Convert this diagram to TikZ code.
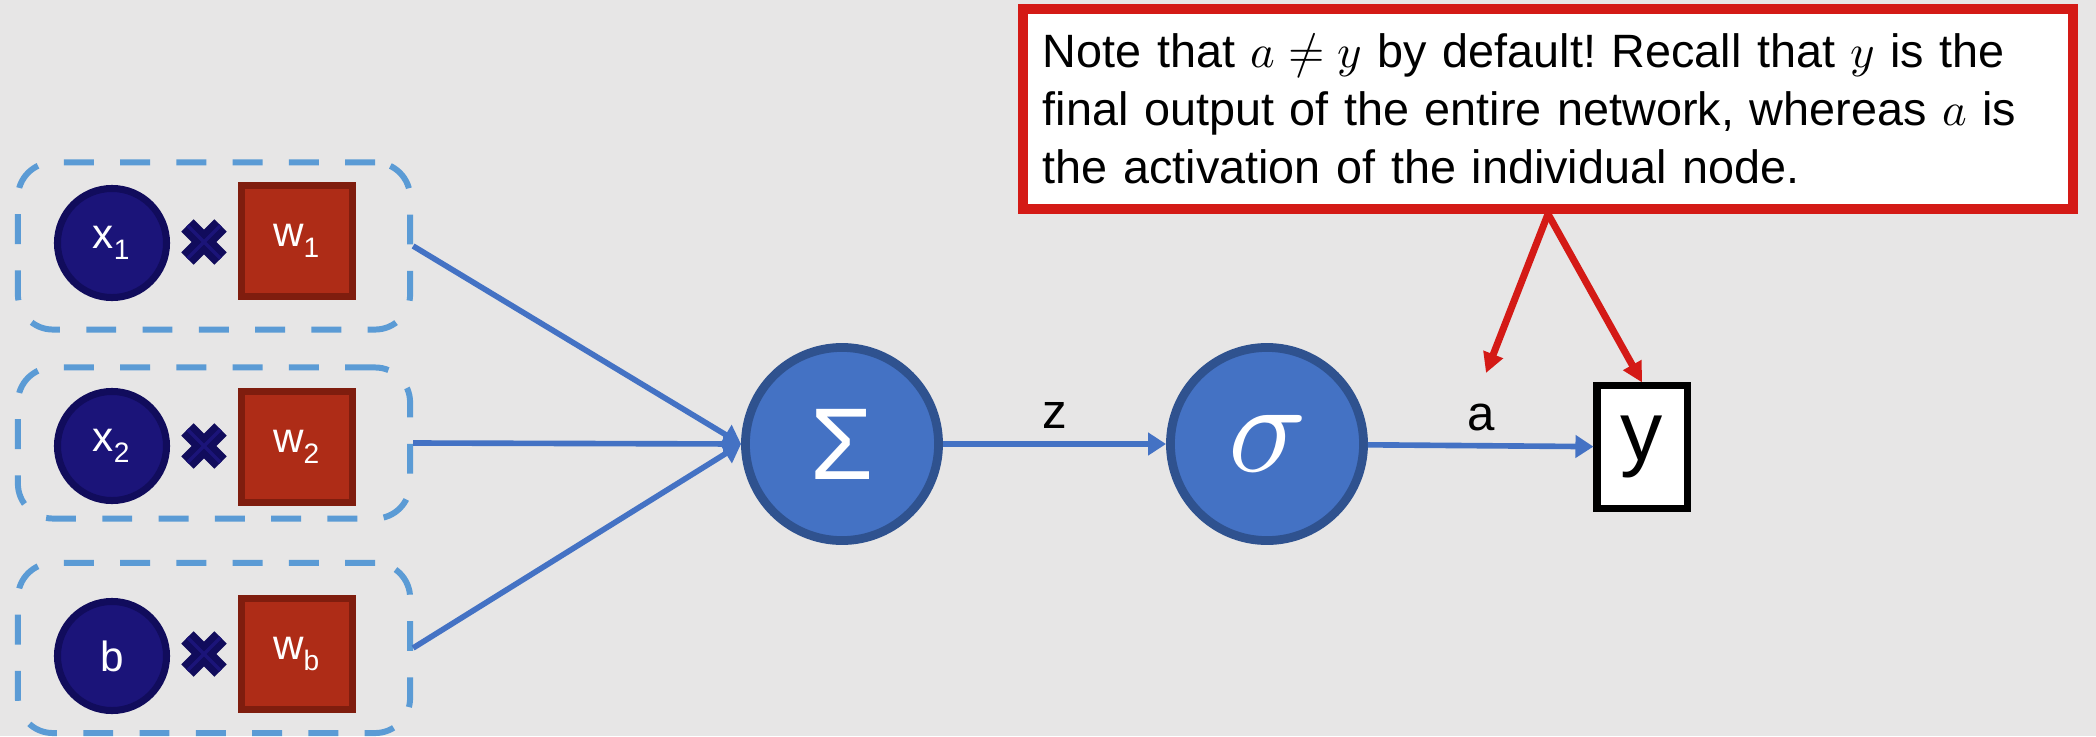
\documentclass[tikz,border=0pt]{standalone}
\usepackage{fontspec}
\usepackage{unicode-math}
\setmainfont{Liberation Sans}
\setmathfont{Latin Modern Math}
\usepackage{xcolor}
\usepackage{tikz}
\usetikzlibrary{arrows.meta, shapes.misc, positioning}

\definecolor{bgpaper}{HTML}{E7E6E6}
\definecolor{groupblue}{HTML}{5B9BD5}
\definecolor{navyfill}{HTML}{1B1479}
\definecolor{navyline}{HTML}{110C5C}
\definecolor{rustfill}{HTML}{AE2C17}
\definecolor{rustline}{HTML}{7F1D0E}
\definecolor{unitblue}{HTML}{4472C4}
\definecolor{unitline}{HTML}{2F528F}
\definecolor{notered}{HTML}{D41A16}

\tikzset{
    inputnode/.style={circle, fill=navyfill, draw=navyline, line width=2pt,
        minimum size=1.09cm, inner sep=0pt, text=white,
        font=\fontsize{12}{12}\selectfont},
    weightnode/.style={rectangle, fill=rustfill, draw=rustline, line width=2pt,
        minimum size=1.1cm, inner sep=0pt, text=white,
        font=\fontsize{12}{12}\selectfont},
    timesmark/.style={cross out, draw=navyline, double=navyfill,
        double distance=1pt, line width=2pt,
        minimum size=0.26cm, inner sep=0pt},
    groupbox/.style={rectangle, draw=groupblue, line width=1.7pt,
        dash pattern=on 8.5pt off 7.5pt, rounded corners=0.35cm,
        minimum width=3.92cm},
    unitnode/.style={circle, fill=unitblue, draw=unitline, line width=2.5pt,
        minimum size=1.93cm, inner sep=0pt, text=white},
    flow/.style={draw=unitblue, line width=1.6pt,
        -{Triangle[length=0.18cm, width=0.22cm]}},
    flowlabel/.style={above=1.5pt, inner sep=2pt,
        font=\fontsize{14}{14}\selectfont},
    pointer/.style={draw=notered, line width=2pt,
        -{Triangle[length=0.2cm, width=0.2cm]}},
}

\begin{document}
\begin{tikzpicture}[x=0.01cm, y=-0.01cm]
    % 1. Nền
    \fill[bgpaper] (0,0) rectangle (2096,736);
    \useasboundingbox (0,0) rectangle (2096,736);

    % 2. Các nhóm đầu vào
    \node[groupbox, minimum height=1.67cm] (g1) at (214,246) {};
    \node[groupbox, minimum height=1.51cm] (g2) at (214,443) {};
    \node[groupbox, minimum height=1.70cm] (g3) at (214,648) {};

    \node[inputnode] (x1) at (112,243) {x\textsubscript{1}};
    \node[timesmark] (m1) at (204,242) {};
    \node[weightnode] (w1) at (297,241) {w\textsubscript{1}};

    \node[inputnode] (x2) at (112,446) {x\textsubscript{2}};
    \node[timesmark] (m2) at (204,446) {};
    \node[weightnode] (w2) at (297,447) {w\textsubscript{2}};

    \node[inputnode] (b) at (112,656) {b};
    \node[timesmark] (m3) at (204,654) {};
    \node[weightnode] (wb) at (297,654) {w\textsubscript{b}};

    % 3. Tổng, hàm kích hoạt, đầu ra
    \node[unitnode, font=\fontsize{29}{29}\selectfont] (sum) at (842,444) {Σ};
    \node[unitnode, font=\fontsize{37}{37}\selectfont] (act) at (1267,444) {$\sigma$};
    \node[rectangle, fill=white, draw=black, line width=2pt,
        minimum width=0.9cm, minimum height=1.22cm, inner sep=0pt,
        font=\fontsize{24}{24}\selectfont] (y) at (1642,447) {y};

    \draw[flow] (g1.east) -- (sum.west);
    \draw[flow] (g2.east) -- (sum.west);
    \draw[flow] (g3.east) -- (sum.west);
    \draw[flow] (sum) -- node[flowlabel] (zlab) {z} (act);
    \draw[flow] (act) -- node[flowlabel] (alab) {a} (y);

    % 4. Ghi chú
    \node[rectangle, fill=white, draw=notered, line width=2.8pt,
        text width=10.1cm, minimum height=2.0cm, inner xsep=0.2cm, align=left,
        font=\fontsize{13.3}{16.5}\selectfont\frenchspacing] (note) at (1548,109)
        {Note that $a \neq y$ by default! Recall that $y$ is the\\
         final output of the entire network, whereas $a$ is\\
         the activation of the individual node.};
    \coordinate (aend) at (1486,373);
    \draw[pointer] (note.south) -- (aend);
    \draw[pointer] (note.south) -- (y.north);
\end{tikzpicture}
\end{document}
